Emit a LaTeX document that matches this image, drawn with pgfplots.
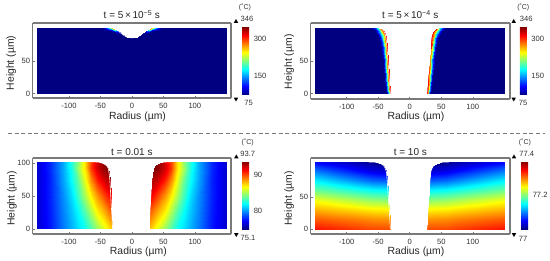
\documentclass[border=0pt]{standalone}
\usepackage{fontspec}
\setmainfont{Liberation Sans}
\usepackage{pgfplots}
\usepackage{pgfplotstable}
\pgfplotsset{compat=1.18}
\definecolor{fr}{gray}{0.48}
\pgfplotsset{panel/.style={
  scale only axis, anchor=south west, view={0}{90},
  axis line style={draw=fr,line width=1.2pt},
  tick style={draw=fr,line width=0.5pt},
  tick align=inside, major tick length=2pt,
  xtick pos=bottom, ytick pos=left,
  colormap/jet,
  xtick={-100,-50,0,50,100}, xticklabels={-100,-50,0,50,100},
  ticklabel style={font=\fontsize{7.6}{8}\selectfont,text=black!80},
  xlabel={Radius (µm)}, ylabel={Height (µm)},
  label style={font=\fontsize{10.4}{11}\selectfont,text=black!85},
  xticklabel style={yshift=-2pt}, yticklabel style={xshift=1pt},
  title style={font=\fontsize{10}{11}\selectfont,text=black!85,yshift=-5.5pt},
},
edge/.style={white,line width=#1,smooth,tension=0.4,no marks,forget plot},
lp/.style n args={4}{xlabel style={at={(axis description cs:#1,#2)},anchor=center},
  ylabel style={at={(axis description cs:#3,#4)},anchor=center}},
cb/.style n args={3}{colorbar, colorbar style={at={(parent axis.south east)},anchor=south west,
   xshift=#1pt,yshift=#2pt,width=7pt,height=68pt,scale only axis,
   axis line style={draw=none},tick style={draw=none},
   ytick={#3},yticklabels={#3},
   yticklabel style={font=\fontsize{7.6}{8}\selectfont,text=black!80,xshift=1pt}}}}
\pgfplotstableread{
x xr y t
-150 150 0 75
-150 150 50 75
-150 150 96 75
-150 150 98 75
-150 150 99.5 75
-150 150 101 75
-50 50 0 75
-50 50 50 75
-50 50 96 75
-50 50 98 75
-50 50 99.5 75
-50 50 101 75
-46 46 0 75
-46 46 50 75
-46 46 96 75
-46 46 98 76
-46 46 99.5 77.75
-46 46 101 80
-43 43 0 75
-43 43 50 75
-43 43 96 75
-43 43 98 80
-43 43 99.5 88.75
-43 43 101 100
-40 40 0 75
-40 40 50 75
-40 40 95.8 75
-40 40 97.8 86
-40 40 99.3 105
-40 40 100.8 130
-37 37 0 75
-37 37 50 75
-37 37 95.5 75
-37 37 97.5 94
-37 37 99 128
-37 37 100.5 170
-34 34 0 75
-34 34 50 75
-34 34 95.3 75
-34 34 97.3 104
-34 34 98.8 155
-34 34 100.3 220
-31 31 0 75
-31 31 50 75
-31 31 95.2 75
-31 31 97.2 114
-31 31 98.7 182
-31 31 100.2 270
-28 28 0 75
-28 28 50 75
-28 28 94.5 75
-28 28 96.5 114
-28 28 98 182
-28 28 99.5 270
-25 25 0 75
-25 25 50 75
-25 25 93 75
-25 25 95 94
-25 25 96.5 128
-25 25 98 170
-22 22 0 75
-22 22 50 75
-22 22 91 75
-22 22 93 81
-22 22 94.5 91
-22 22 96 105
-18 18 0 75
-18 18 50 75
-18 18 87.5 75
-18 18 89.5 75.6
-18 18 91 76.7
-18 18 92.5 78
-10 10 0 75
-10 10 50 75
-10 10 82 75
-10 10 84 75
-10 10 85.5 75
-10 10 87 75
-5 5 0 75
-5 5 50 75
-5 5 80.5 75
-5 5 82.5 75
-5 5 84 75
-5 5 85.5 75
0 0 0 75
0 0 50 75
0 0 80 75
0 0 82 75
0 0 83.5 75
0 0 85 75
}\tA
\pgfplotstableread{
x xr y t
-150 150 0 75
-37 33.5 0 75
-35.8 32.3 0 95
-34.3 30.8 0 145
-33.1 29.6 0 200
-31.9 28.4 0 270
-31 27.5 0 310
-150 150 25 75
-40 36.5 25 75
-38.6 35.1 25 95
-36.85 33.35 25 145
-35.45 31.95 25 200
-34.05 30.55 25 270
-33 29.5 25 310
-150 150 50 75
-43 39.5 50 75
-41.4 37.9 50 95
-39.4 35.9 50 145
-37.8 34.3 50 200
-36.2 32.7 50 270
-35 31.5 50 310
-150 150 70 75
-45.5 42 70 75
-43.7 40.2 70 95
-41.45 37.95 70 145
-39.65 36.15 70 200
-37.85 34.35 70 270
-36.5 33 70 310
-150 150 85 75
-49 45.5 85 75
-46.8 43.3 85 95
-44.05 40.55 85 145
-41.85 38.35 85 200
-39.65 36.15 85 270
-38 34.5 85 310
-150 150 92 75
-52.5 49 92 75
-49.9 46.4 92 95
-46.65 43.15 92 145
-44.05 40.55 92 200
-41.45 37.95 92 270
-39.5 36 92 310
-150 150 96 75
-55.5 52 96 75
-52.7 49.2 96 95
-49.2 45.7 96 145
-46.4 42.9 96 200
-43.6 40.1 96 270
-41.5 38 96 310
-150 150 99 75
-58.5 55 99 75
-55.7 52.2 99 95
-52.2 48.7 99 145
-49.4 45.9 99 200
-46.6 43.1 99 270
-44.5 41 99 310
-150 150 101 75
-62 58.5 101 75
-59.6 56.1 101 85
-56.6 53.1 101 110
-54.2 50.7 101 140
-51.8 48.3 101 170
-50 46.5 101 200
}\tB
\pgfplotstableread{
x xr y t
-150 150 0 76.6
-130 127 0 77.8
-110 107 0 79.6
-95 92 0 80.7
-85 82 0 81.5
-75 72 0 82.3
-65 62 0 83.5
-55 52 0 84.8
-45 42 0 86.1
-31 28 0 87.8
-150 150 25 76.6
-130 127 25 77.9
-110 107 25 79.8
-95 92 25 81.1
-85 82 25 82.1
-75 72 25 83.6
-65 62 25 85.2
-55 52 25 86.9
-45 42 25 88.1
-32.5 29 25 89.6
-150 150 50 76.6
-130 127 50 78.0
-110 107 50 80.0
-95 92 50 81.6
-85 82 50 83.2
-75 72 50 85.2
-65 62 50 87.0
-55 52 50 88.6
-45 42 50 90.1
-34 30.5 50 91.5
-150 150 75 76.6
-130 127 75 78.0
-110 107 75 80.4
-95 92 75 82.3
-85 82 75 83.9
-75 72 75 86.4
-65 62 75 88.9
-55 52 75 90.8
-45 42 75 92.2
-35.5 32 75 92.8
-150 150 92 76.6
-130 127 92 78.1
-110 107 92 80.5
-95 92 92 82.7
-85 82 92 85.0
-75 72 92 87.3
-65 62 92 90.4
-55 52 92 92.2
-45 42 92 93.4
-38 34.5 92 93.7
-150 150 97 76.6
-130 127 97 78.1
-110 107 97 80.5
-95 92 97 82.8
-85 82 97 84.7
-75 72 97 87.3
-65 62 97 90.3
-55 52 97 92.2
-45 42 97 93.4
-42 38.5 97 93.6
-150 150 100 76.6
-130 127 100 78.1
-110 107 100 80.5
-95 92 100 82.8
-85 82 100 84.7
-75 72 100 87.3
-65 62 100 90.3
-55 52 100 92.2
-51 48 100 92.9
-48 44.5 100 93.0
-150 150 101 76.6
-130 127 101 78.1
-110 107 101 80.5
-95 92 101 82.8
-85 82 101 84.7
-75 72 101 87.3
-65 62 101 90.3
-60 57 101 90.9
-56 53 101 91.5
-53 49.5 101 91.7
}\tC
\pgfplotstableread{
x xr y t
-150 150 0 77.344
-110 107 0 77.334
-80 77 0 77.327
-60 57 0 77.322
-31 27.5 0 77.32
-150 150 15 77.314
-110 107 15 77.305
-80 77 15 77.299
-60 57 15 77.294
-32 28.5 15 77.292
-150 150 30 77.281
-110 107 30 77.271
-80 77 30 77.264
-60 57 30 77.258
-33 29.5 30 77.256
-150 150 45 77.244
-110 107 45 77.228
-80 77 45 77.216
-60 57 45 77.208
-34 30.5 45 77.204
-150 150 60 77.196
-110 107 60 77.179
-80 77 60 77.166
-60 57 60 77.158
-35 31.5 60 77.154
-150 150 75 77.148
-110 107 75 77.124
-80 77 75 77.106
-60 57 75 77.094
-36 32.5 75 77.088
-150 150 90 77.098
-110 107 90 77.072
-80 77 90 77.053
-60 57 90 77.04
-37.5 34 90 77.034
-150 150 98 77.072
-110 107 98 77.05
-80 77 98 77.034
-60 57 98 77.023
-41 37.5 98 77.016
-150 150 102 77.058
-110 107 102 77.038
-80 77 102 77.023
-60 57 102 77.013
-46 42.5 102 77.006
-150 150 104 77.052
-110 107 104 77.033
-80 77 104 77.018
-60 57 104 77.009
-55 51.5 104 77
}\tD
\begin{document}
\begin{tikzpicture}
\path[use as bounding box] (0,0) rectangle (550pt,261pt);
% panel 1
\begin{axis}[panel, at={(32.7pt,163pt)}, width=198.3pt, height=75pt,
  xmin=-157.6,xmax=157.4,ymin=-6.6,ymax=108.3, ytick={0,50}, yticklabels={0,50},
  point meta min=75, point meta max=346, lp={0.5285}{-0.253}{-0.108}{0.467},
  title={t = 5\,×\,10\textsuperscript{−5} s}, cb={2.7}{3}{150,300}]
\addplot3[surf,shader=interp,mesh/rows=15,mesh/cols=6] table[x=x,y=y,z=t]{\tA};
\addplot3[surf,shader=interp,mesh/rows=15,mesh/cols=6] table[x=xr,y=y,z=t]{\tA};
\addplot3[edge=0.5pt] coordinates {(-50,101.5,346)(-40,101.3,346)(-34,100.8,346)(-31,100.7,346)(-28,100,346)(-25,98.5,346)(-22,96.5,346)(-18,93,346)(-10,87.5,346)(-5,86,346)(0,85.5,346)(5,86,346)(10,87.5,346)(18,93,346)(22,96.5,346)(25,98.5,346)(28,100,346)(31,100.7,346)(34,100.8,346)(40,101.3,346)(50,101.5,346)};
\end{axis}
% panel 2
\begin{axis}[panel, at={(310.7pt,162pt)}, width=199.3pt, height=76pt,
  xmin=-157,xmax=159,ymin=-8.1,ymax=108.3, ytick={0,50}, yticklabels={0,50},
  point meta min=75, point meta max=346, lp={0.528}{-0.237}{-0.108}{0.49},
  title={t = 5\,×\,10\textsuperscript{−4} s}, cb={1.3}{4}{150,300}]
\addplot3[surf,shader=interp,mesh/rows=9,mesh/cols=7] table[x=x,y=y,z=t]{\tB};
\addplot3[surf,shader=interp,mesh/rows=9,mesh/cols=7] table[x=xr,y=y,z=t]{\tB};
\addplot3[edge=0.5pt] coordinates {(-30.6,-0.5,346)(-32.6,25,346)(-34.6,50,346)(-36.1,70,346)(-37.6,85,346)(-39.1,92,346)(-41.1,96,346)(-44.1,99,346)(-50,101.5,346)(-62,101.6,346)};
\addplot3[edge=0.5pt] coordinates {(27.1,-0.5,346)(29.1,25,346)(31.1,50,346)(32.6,70,346)(34.1,85,346)(35.6,92,346)(37.6,96,346)(40.6,99,346)(46.5,101.5,346)(58.5,101.6,346)};
\end{axis}
% panel 3
\begin{axis}[panel, at={(32.7pt,27pt)}, width=198.3pt, height=76pt,
  xmin=-157.6,xmax=157.4,ymin=-7.6,ymax=107.6, ytick={0,50,100}, yticklabels={0,50,100},
  point meta min=75.1, point meta max=93.7, lp={0.533}{-0.237}{-0.105}{0.47},
  title={t = 0.01 s}, title style={yshift=-1.5pt}, cb={2.7}{4.7}{80,90}]
\addplot3[surf,shader=interp,mesh/rows=8,mesh/cols=10] table[x=x,y=y,z=t]{\tC};
\addplot3[surf,shader=interp,mesh/rows=8,mesh/cols=10] table[x=xr,y=y,z=t]{\tC};
\addplot3[edge=0.6pt] coordinates {(-30.6,-0.5,94)(-32.1,25,94)(-33.6,50,94)(-35.1,75,94)(-37.6,92,94)(-41.6,97,94)(-47.6,100,94)(-53,101.5,94)(-65,101.6,94)};
\addplot3[edge=0.6pt] coordinates {(27.6,-0.5,94)(28.6,25,94)(30.1,50,94)(31.6,75,94)(34.1,92,94)(38.1,97,94)(44.1,100,94)(49.5,101.5,94)(62,101.6,94)};
\end{axis}
% panel 4
\begin{axis}[panel, at={(310.7pt,27pt)}, width=199.3pt, height=76pt,
  xmin=-157,xmax=159,ymin=-7.8,ymax=111, ytick={0,50}, yticklabels={0,50},
  point meta min=77, point meta max=77.4, lp={0.528}{-0.237}{-0.108}{0.47},
  title={t = 10 s}, title style={yshift=-1.5pt}, cb={2.7}{4.7}{77.2}]
\addplot3[surf,shader=interp,mesh/rows=10,mesh/cols=5] table[x=x,y=y,z=t]{\tD};
\addplot3[surf,shader=interp,mesh/rows=10,mesh/cols=5] table[x=xr,y=y,z=t]{\tD};
\addplot3[edge=0.6pt] coordinates {(-30.6,-0.5,77.4)(-31.6,15,77.4)(-32.6,30,77.4)(-33.6,45,77.4)(-34.6,60,77.4)(-35.6,75,77.4)(-37.1,90,77.4)(-40.6,98,77.4)(-45.6,102,77.4)(-55,104.5,77.4)(-65,104.6,77.4)};
\addplot3[edge=0.6pt] coordinates {(27.1,-0.5,77.4)(28.1,15,77.4)(29.1,30,77.4)(30.1,45,77.4)(31.1,60,77.4)(32.1,75,77.4)(33.6,90,77.4)(37.1,98,77.4)(42.1,102,77.4)(51.5,104.5,77.4)(62,104.6,77.4)};
\end{axis}
\begin{scope}[x=1pt,y=-1pt,shift={(0pt,261pt)},
  lab/.style={font=\fontsize{7.6}{8}\selectfont,text=black!80,inner sep=0pt},
  unit/.style={font=\fontsize{7}{8}\selectfont,text=black!80,inner sep=0pt}]
\draw[draw=fr,line width=0.6pt,dash pattern=on 4pt off 2.6pt] (8,133.4) -- (545,133.4);
\node[unit] at (245,7.3) {(˚C)};
\node[lab] at (247,18.7) {346};
\node[lab] at (248.7,102.7) {75};
\fill (236,19)--(238.2,22.8)--(233.8,22.8)--cycle;
\fill (236,101.5)--(238.2,97.7)--(233.8,97.7)--cycle;
\node[unit] at (523.3,7.3) {(˚C)};
\node[lab] at (526.3,19) {346};
\node[lab] at (523,103.3) {75};
\fill (513.7,19)--(515.9,22.8)--(511.5,22.8)--cycle;
\fill (513.7,101.5)--(515.9,97.7)--(511.5,97.7)--cycle;
\node[unit] at (247.7,142) {(˚C)};
\node[lab] at (247.7,154) {93.7};
\node[lab] at (248,238.3) {75.1};
\fill (236.3,154.5)--(238.5,158.3)--(234.1,158.3)--cycle;
\fill (236.3,237)--(238.5,233.2)--(234.1,233.2)--cycle;
\node[unit] at (525,142.3) {(˚C)};
\node[lab] at (526.7,153.7) {77.4};
\node[lab] at (523,238.7) {77};
\fill (514,154.5)--(516.2,158.3)--(511.8,158.3)--cycle;
\fill (514,237)--(516.2,233.2)--(511.8,233.2)--cycle;
\end{scope}
\end{tikzpicture}
\end{document}
